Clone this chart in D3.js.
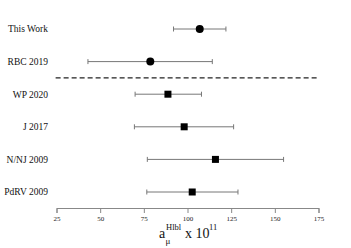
<!DOCTYPE html>
<html>
<head>
<meta charset="utf-8">
<script src="https://cdn.jsdelivr.net/npm/d3@7"></script>
<style>
  body { margin: 0; background: #fff; }
</style>
</head>
<body>
<svg id="chart" width="351" height="248"></svg>
<script>
// data
var labels = ["This Work", "RBC 2019", "WP 2020", "J 2017", "N/NJ 2009", "PdRV 2009"];
var values = [107, 78.7, 88.8, 98.1, 116, 102.7];
var lows   = [92, 43, 70, 69.6, 77, 76.7];
var highs  = [122, 114.2, 108, 126.4, 155, 128.9];
var shapes = ["circle", "circle", "square", "square", "square", "square"];
var ticks  = [25, 50, 75, 100, 125, 150, 175];

var serif = "'Liberation Serif', 'Times New Roman', 'DejaVu Serif', serif";

var svg = d3.select("#chart").style("font-family", serif);

var x = d3.scaleLinear().domain([25, 175]).range([56.5, 318.5]);
var y = d3.scaleLinear().domain([0, 5]).range([29, 192]);

var rows = labels.map(function(l, i) {
  return {label: l, v: values[i], lo: lows[i], hi: highs[i], shape: shapes[i], r: i};
});

// labels
svg.append("g").selectAll("text")
  .data(rows).enter().append("text")
    .attr("x", 48)
    .attr("y", function(d) { return y(d.r); })
    .attr("dy", "0.35em")
    .attr("text-anchor", "end")
    .attr("font-size", 9.5)
    .attr("fill", "#111")
    .style("font-family", serif)
    .text(function(d) { return d.label; });

// dashed separator
svg.append("line")
  .attr("x1", x(24.5)).attr("x2", x(175.5))
  .attr("y1", (y(1) + y(2)) / 2).attr("y2", (y(1) + y(2)) / 2)
  .attr("stroke", "#222")
  .attr("stroke-width", 1.3)
  .attr("stroke-dasharray", "5,3");

// error bars
var bars = svg.append("g").selectAll("g")
  .data(rows).enter().append("g");

bars.append("line")
  .attr("x1", function(d) { return x(d.lo); })
  .attr("x2", function(d) { return x(d.hi); })
  .attr("y1", function(d) { return y(d.r); })
  .attr("y2", function(d) { return y(d.r); })
  .attr("stroke", "#777").attr("stroke-width", 1);

bars.selectAll(".cap")
  .data(function(d) { return [{x: d.lo, r: d.r}, {x: d.hi, r: d.r}]; })
  .enter().append("line")
    .attr("class", "cap")
    .attr("x1", function(d) { return x(d.x); })
    .attr("x2", function(d) { return x(d.x); })
    .attr("y1", function(d) { return y(d.r) - 2.5; })
    .attr("y2", function(d) { return y(d.r) + 2.5; })
    .attr("stroke", "#777").attr("stroke-width", 1);

bars.filter(function(d) { return d.shape == "circle"; })
  .append("circle")
    .attr("cx", function(d) { return x(d.v); })
    .attr("cy", function(d) { return y(d.r); })
    .attr("r", 4)
    .attr("fill", "#000");

bars.filter(function(d) { return d.shape == "square"; })
  .append("rect")
    .attr("x", function(d) { return x(d.v) - 3.5; })
    .attr("y", function(d) { return y(d.r) - 3.5; })
    .attr("width", 7).attr("height", 7)
    .attr("fill", "#000");

// x axis
var axis = svg.append("g")
  .attr("transform", "translate(0,208)")
  .call(d3.axisBottom(x).tickValues(ticks).tickSize(5).tickPadding(3));
axis.attr("font-family", null);
axis.select(".domain").attr("stroke", "#888");
axis.selectAll(".tick line").attr("stroke", "#888");
axis.selectAll(".tick text")
  .style("font-family", serif)
  .attr("font-size", 7)
  .attr("fill", "#222");

// axis title: a_mu^Hlbl x 10^11
var t = svg.append("g").attr("font-size", 14).attr("fill", "#111").style("font-family", serif);
t.append("text").attr("x", 159).attr("y", 238).text("a");
t.append("text").attr("x", 165.5).attr("y", 244).attr("font-size", 9).text("μ");
t.append("text").attr("x", 166).attr("y", 230).attr("font-size", 8.5).text("Hlbl");
t.append("text").attr("x", 185).attr("y", 238).text("x 10");
t.append("text").attr("x", 209).attr("y", 230).attr("font-size", 8.5).text("11");
</script>
</body>
</html>
